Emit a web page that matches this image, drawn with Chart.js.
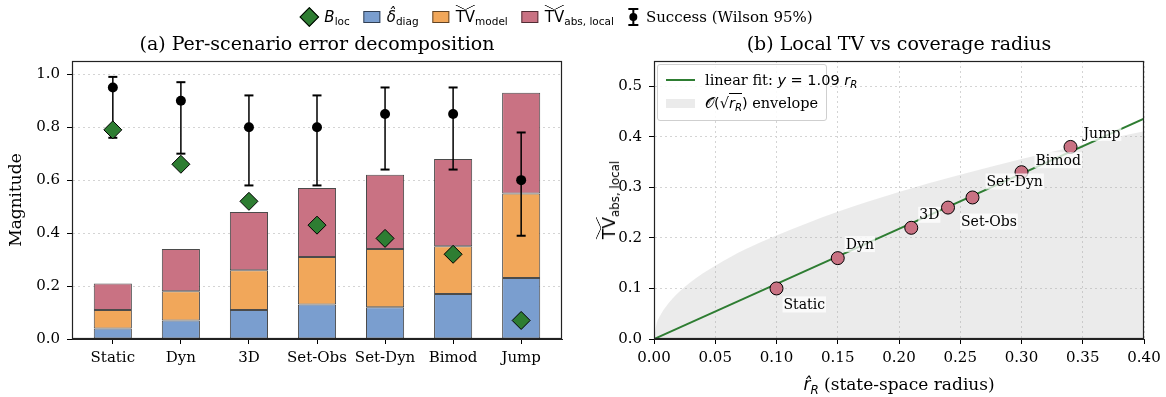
<!DOCTYPE html>
<html><head><meta charset="utf-8">
<script src="https://cdn.jsdelivr.net/npm/chart.js@4.4.1/dist/chart.umd.min.js"></script>
<style>
html,body{margin:0;padding:0;background:#fff;}
#fig{position:relative;width:1166px;height:397px;overflow:hidden;font-family:"DejaVu Serif",serif;color:#000;}
canvas{position:absolute;top:0;}
#c1{left:0;}
#c2{left:600px;}
.title{position:absolute;top:32px;font-size:19px;line-height:22px;white-space:nowrap;transform:translateX(-50%);}
.m{font-family:"DejaVu Sans",sans-serif;}
.m sub{font-size:0.7em;vertical-align:-0.3em;line-height:0;}
.wh{position:relative;display:inline-block;line-height:1;}
.wh::before{content:'';position:absolute;left:0;right:0;top:-0.32em;height:0.3em;
 background:linear-gradient(to top right,transparent calc(50% - 0.7px),#000 50%,transparent calc(50% + 0.7px)) left/50% 100% no-repeat,
 linear-gradient(to top left,transparent calc(50% - 0.7px),#000 50%,transparent calc(50% + 0.7px)) right/50% 100% no-repeat;}
#legend{position:absolute;top:4px;left:556px;transform:translateX(-50%);display:flex;align-items:center;white-space:nowrap;font-size:15px;height:26px;}
#legend .item{display:flex;align-items:center;margin:0 7px;}
#legend .sw{display:inline-block;width:15px;height:10px;border:1px solid rgba(0,0,0,0.6);margin-right:6px;}
#legend .dia{display:inline-block;width:12px;height:12px;background:#2e7d32;border:1px solid #000;transform:rotate(45deg);margin:0 8px 0 3px;}
#legend .eb{position:relative;display:inline-block;width:10px;height:18px;margin-right:8px;}
#legend .eb::before{content:'';position:absolute;left:4px;top:0;width:2px;height:18px;background:#000;}
#legend .eb::after{content:'';position:absolute;left:1px;top:5px;width:8px;height:8px;border-radius:50%;background:#000;}
#legend .cap{position:absolute;left:0;width:10px;height:2px;background:#000;}
#leg2{position:absolute;left:657px;top:64px;width:168px;height:55px;border:1px solid #cfcfcf;border-radius:3px;background:rgba(255,255,255,0.85);font-size:14.5px;}
#leg2 .row{position:absolute;left:8px;display:flex;align-items:center;white-space:nowrap;height:20px;}
#leg2 .ln{display:inline-block;width:29px;height:2px;background:#2e7d32;margin-right:10px;}
#leg2 .gr{display:inline-block;width:29px;height:9px;background:#ebebeb;margin-right:10px;}
.sq{border-top:1px solid #000;padding-top:1px;}
#ylab2{position:absolute;left:609px;top:200px;transform:translate(-50%,-50%) rotate(-90deg);white-space:nowrap;font-size:17px;}
#xlab2{position:absolute;left:899px;top:373px;transform:translateX(-50%);white-space:nowrap;font-size:17px;line-height:22px;}
</style>
</head><body>
<div id="fig">
<canvas id="c1" width="600" height="397"></canvas>
<canvas id="c2" width="566" height="397"></canvas>
<div class="title" style="left:317px">(a) Per-scenario error decomposition</div>
<div class="title" style="left:899px">(b) Local TV vs coverage radius</div>
<div id="legend">
 <span class="item"><span class="dia"></span><span class="m"><i>B</i><sub>loc</sub></span></span>
 <span class="item"><span class="sw" style="background:#7a9ecf"></span><span class="m"><i>δ̂</i><sub>diag</sub></span></span>
 <span class="item"><span class="sw" style="background:#f1a75a"></span><span class="m"><span class="wh">TV</span><sub>model</sub></span></span>
 <span class="item"><span class="sw" style="background:#c97283"></span><span class="m"><span class="wh">TV</span><sub>abs, local</sub></span></span>
 <span class="item"><span class="eb"><span class="cap" style="top:0"></span><span class="cap" style="top:16px"></span></span><span>Success (Wilson 95%)</span></span>
</div>
<div id="leg2">
 <div class="row" style="top:5px"><span class="ln"></span><span>linear fit: <span class="m"><i>y</i> = 1.09 <i>r</i><sub><i>R</i></sub></span></span></div>
 <div class="row" style="top:28px"><span class="gr"></span><span><span class="m">𝒪(√<span class="sq"><i>r</i><sub><i>R</i></sub></span>)</span> envelope</span></div>
</div>
<div id="ylab2"><span class="m"><span class="wh">TV</span><sub>abs, local</sub></span></div>
<div id="xlab2"><span class="m"><i>r̂</i><sub><i>R</i></sub></span> (state-space radius)</div>
</div>
<script>
// ---------- data ----------
const categories = ['Static','Dyn','3D','Set-Obs','Set-Dyn','Bimod','Jump'];
const deltaDiag  = [0.04,0.07,0.11,0.13,0.12,0.17,0.23];
const tvModel    = [0.07,0.11,0.15,0.18,0.22,0.18,0.32];
const tvAbsLocal = [0.10,0.16,0.22,0.26,0.28,0.33,0.38];
const bLoc       = [0.79,0.66,0.52,0.43,0.38,0.32,0.07];
const success    = [0.95,0.90,0.80,0.80,0.85,0.85,0.60];
const successLo  = [0.76,0.70,0.58,0.58,0.64,0.64,0.39];
const successHi  = [0.99,0.97,0.92,0.92,0.95,0.95,0.78];
const magTicks   = [0,0.2,0.4,0.6,0.8,1.0];

const rHat       = [0.10,0.15,0.21,0.24,0.26,0.30,0.34];
const fitX       = [0,0.40];
const fitY       = [0,0.436];
const envX       = [0,0.002,0.005,0.01,0.02,0.03,0.05,0.075,0.10,0.15,0.20,0.25,0.30,0.35,0.40];
const envY       = [0,0.029,0.046,0.065,0.092,0.113,0.145,0.178,0.205,0.252,0.291,0.325,0.356,0.385,0.411];
const rTicks     = [0,0.05,0.10,0.15,0.20,0.25,0.30,0.35,0.40];
const tvTicks    = [0,0.1,0.2,0.3,0.4,0.5];

// ---------- styles ----------
const C_BLUE='#7a9ecf', C_ORANGE='#f1a75a', C_RED='#c97283', C_GREEN='#2e7d32';
const BAR_EDGE='rgba(30,30,30,0.8)';
const tickFont = {family:'DejaVu Serif', size:15};
const gridDotted = {color:'#d4d4d4', lineWidth:1, tickLength:5, tickColor:'#000', tickWidth:1};
const labelOffsets = [[7,16],[8,-14],[8,-13],[13,14],[14,-16],[14,-12],[13,-14]];

const framePlugin = {
  id:'frame',
  afterDatasetsDraw(chart){
    const a = chart.chartArea, ctx = chart.ctx;
    ctx.save(); ctx.strokeStyle='#222'; ctx.lineWidth=1.2;
    ctx.strokeRect(Math.round(a.left)+0.5, Math.round(a.top)+0.5, Math.round(a.right-a.left)-1, Math.round(a.bottom-a.top)-1);
    ctx.restore();
  }
};

// ---------- chart (a) ----------
const xy = (xs, ys) => xs.map((x,i)=>({x:x, y:ys[i]}));
const idx = categories.map((c,i)=>i);
const ebLine = [];
idx.forEach(i=>{ ebLine.push({x:i,y:successLo[i]},{x:i,y:successHi[i]},{x:i,y:null}); });
const caps = idx.map(i=>({x:i,y:successLo[i]})).concat(idx.map(i=>({x:i,y:successHi[i]})));
const barCommon = {type:'bar', borderColor:BAR_EDGE, borderWidth:1, borderSkipped:false, categoryPercentage:1, barPercentage:0.56};

new Chart(document.getElementById('c1'), {
  type:'bar',
  data:{ datasets:[
    Object.assign({label:'delta_diag', data:xy(idx,deltaDiag), backgroundColor:C_BLUE, order:10}, barCommon),
    Object.assign({label:'TV_model', data:xy(idx,tvModel), backgroundColor:C_ORANGE, order:11}, barCommon),
    Object.assign({label:'TV_abs_local', data:xy(idx,tvAbsLocal), backgroundColor:C_RED, order:12}, barCommon),
    {type:'line', label:'ci', data:ebLine, yAxisID:'yv', borderColor:'#000', borderWidth:1.5, pointRadius:0, spanGaps:false, order:3},
    {type:'scatter', label:'caps', data:caps, yAxisID:'yv', pointStyle:'line', pointRadius:4.5, borderColor:'#000', borderWidth:2, order:2},
    {type:'scatter', label:'success', data:xy(idx,success), yAxisID:'yv', pointStyle:'circle', pointRadius:5, backgroundColor:'#000', borderColor:'#000', borderWidth:0, order:1},
    {type:'scatter', label:'B_loc', data:xy(idx,bLoc), yAxisID:'yv', pointStyle:'rectRot', pointRadius:9, backgroundColor:C_GREEN, borderColor:'#000', borderWidth:1, order:0}
  ]},
  options:{
    responsive:false, devicePixelRatio:1, animation:false, events:[],
    layout:{padding:{left:0, right:38, top:61, bottom:0}},
    plugins:{legend:{display:false}, tooltip:{enabled:false}},
    scales:{
      x:{type:'linear', min:-0.6, max:6.6, stacked:true, offset:false,
         afterBuildTicks:s=>{ s.ticks = idx.map(i=>({value:i})); },
         afterFit:s=>{ s.height = 58; },
         ticks:{callback:v=>categories[v], font:tickFont, color:'#000', padding:5, autoSkip:false, maxRotation:0},
         grid:{offset:false, drawOnChartArea:false, drawTicks:true, tickLength:5, tickColor:'#000'},
         border:{color:'#222', width:1}},
      y:{stacked:true, min:0, max:1.05,
         afterBuildTicks:s=>{ s.ticks = magTicks.map(v=>({value:v})); },
         afterFit:s=>{ s.width = 72; },
         ticks:{callback:v=>v.toFixed(1), font:tickFont, color:'#000', padding:7},
         grid:gridDotted,
         border:{color:'#222', width:1, dash:[2,3]},
         title:{display:true, text:'Magnitude', font:{family:'DejaVu Serif', size:17}, color:'#000', padding:{top:6,bottom:0}}},
      yv:{display:false, min:0, max:1.05}
    }
  },
  plugins:[framePlugin]
});

// ---------- chart (b) ----------
const pointLabels = {
  id:'pointLabels',
  afterDatasetsDraw(chart){
    const ctx = chart.ctx, sx = chart.scales.x, sy = chart.scales.y;
    ctx.save();
    ctx.font = '14px "DejaVu Serif"'; ctx.textBaseline='middle'; ctx.textAlign='left';
    categories.forEach((c,i)=>{
      const px = sx.getPixelForValue(rHat[i]) + labelOffsets[i][0];
      const py = sy.getPixelForValue(tvAbsLocal[i]) + labelOffsets[i][1];
      const w = ctx.measureText(c).width;
      ctx.fillStyle='rgba(255,255,255,0.75)';
      ctx.fillRect(px-1, py-8, w+2, 16);
      ctx.fillStyle='#000';
      ctx.fillText(c, px, py+1);
    });
    ctx.restore();
  }
};

new Chart(document.getElementById('c2'), {
  type:'scatter',
  data:{ datasets:[
    {type:'scatter', label:'scenarios', data:xy(rHat,tvAbsLocal), pointStyle:'circle', pointRadius:6.5, backgroundColor:C_RED, borderColor:'#000', borderWidth:1, order:0},
    {type:'line', label:'fit', data:xy(fitX,fitY), borderColor:C_GREEN, borderWidth:2, pointRadius:0, order:1},
    {type:'line', label:'envelope', data:xy(envX,envY), borderWidth:0, borderColor:'rgba(0,0,0,0)', backgroundColor:'rgba(170,170,170,0.24)', fill:'origin', pointRadius:0, cubicInterpolationMode:'monotone', order:2}
  ]},
  options:{
    responsive:false, devicePixelRatio:1, animation:false, events:[],
    layout:{padding:{left:0, right:22, top:61, bottom:0}},
    plugins:{legend:{display:false}, tooltip:{enabled:false}},
    scales:{
      x:{type:'linear', min:0, max:0.40,
         afterBuildTicks:s=>{ s.ticks = rTicks.map(v=>({value:v})); },
         afterFit:s=>{ s.height = 58; },
         ticks:{callback:v=>v.toFixed(2), font:tickFont, color:'#000', padding:5, maxRotation:0, autoSkip:false},
         grid:gridDotted,
         border:{color:'#222', width:1, dash:[2,3]}},
      y:{type:'linear', min:0, max:0.55,
         afterBuildTicks:s=>{ s.ticks = tvTicks.map(v=>({value:v})); },
         afterFit:s=>{ s.width = 54; },
         ticks:{callback:v=>v.toFixed(1), font:tickFont, color:'#000', padding:7},
         grid:gridDotted,
         border:{color:'#222', width:1, dash:[2,3]}}
    }
  },
  plugins:[framePlugin, pointLabels]
});
</script>
</body></html>
